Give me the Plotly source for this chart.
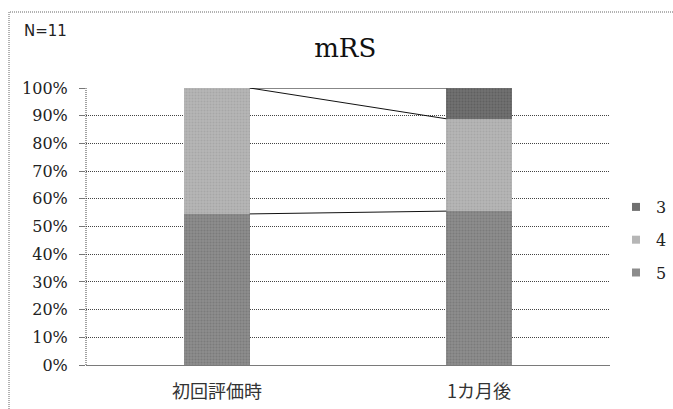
import plotly.graph_objects as go

# mRS distribution at the first assessment and one month later
categories = ["初回評価時", "1カ月後"]
grades = ["5", "4", "3"]
# share of patients per grade (%)
share = {
    "5": [6 / 11 * 100, 5 / 9 * 100],
    "4": [5 / 11 * 100, 3 / 9 * 100],
    "3": [0.0, 1 / 9 * 100],
}
colors = {"5": "#8c8c8c", "4": "#b6b6b6", "3": "#707070"}
grain = {"5": "#6a6a6a", "4": "#989898", "3": "#505050"}
y_ticks = list(range(0, 101, 10))

bar_width = 0.25
xpos = list(range(len(categories)))

SERIF = "DejaVu Serif"

fig = go.Figure()
for g in grades:
    fig.add_trace(go.Bar(
        x=xpos, y=share[g], name=g, width=bar_width, showlegend=False,
        marker=dict(color=colors[g], line=dict(width=0),
                    pattern=dict(shape=".", size=3, solidity=0.35,
                                 fgcolor=grain[g], bgcolor=colors[g])),
    ))

# series lines joining the cumulative boundaries of neighbouring bars
cum = [0.0] * len(categories)
for g in grades:
    cum = [c + v for c, v in zip(cum, share[g])]
    for i in range(len(categories) - 1):
        fig.add_trace(go.Scatter(
            x=[xpos[i] + bar_width / 2, xpos[i + 1] - bar_width / 2],
            y=[cum[i], cum[i + 1]],
            mode="lines", line=dict(color="#111111", width=1),
            showlegend=False, hoverinfo="skip",
        ))

# legend entries with small square keys (top to bottom: 3, 4, 5)
for g in reversed(grades):
    fig.add_trace(go.Scatter(
        x=[None], y=[None], name=g, mode="markers", legendgroup=g,
        marker=dict(symbol="square", size=8, color=colors[g]),
    ))

fig.update_layout(
    width=673, height=409,
    margin=dict(l=86, r=63, t=88, b=44, autoexpand=False),
    barmode="stack",
    plot_bgcolor="white", paper_bgcolor="white",
    title=dict(text="mRS", x=0.513, xanchor="center", y=1 - 48 / 409, yanchor="middle",
               font=dict(family=SERIF, size=26, color="#111111")),
    legend=dict(traceorder="grouped", x=(616 - 86) / 524, xanchor="left",
                y=(365 - 240) / 277, yanchor="middle",
                font=dict(family=SERIF, size=16, color="#222222"),
                itemwidth=30, tracegroupgap=9, bgcolor="rgba(0,0,0,0)"),
    xaxis=dict(range=[-0.5, 1.5], tickvals=xpos, ticktext=categories,
               showgrid=False, zeroline=False, showline=True, linecolor="#7a7a7a", linewidth=1,
               ticks="", ticklabelstandoff=10,
               tickfont=dict(family="Noto Sans CJK JP", size=18, color="#333333")),
    yaxis=dict(range=[0, 100], tickvals=y_ticks, ticktext=[f"{v}%" for v in y_ticks],
               showgrid=True, gridcolor="#444444", griddash="1px,1px", gridwidth=1,
               zeroline=False, showline=False,
               ticks="outside", ticklen=6, tickcolor="#777777", tickwidth=1,
               ticklabelstandoff=8,
               tickfont=dict(family=SERIF, size=16, color="#222222")),
    showlegend=True,
)

# dotted y-axis line
fig.add_shape(type="line", xref="paper", yref="paper", x0=0, x1=0, y0=0, y1=1,
              line=dict(color="#444444", width=1, dash="1px,1px"))

# dotted frame around the chart
fig.add_shape(type="rect", xref="paper", yref="paper",
              x0=(9 - 86) / 524, x1=(680 - 86) / 524,
              y0=-(420 - 365) / 277, y1=1 + (88 - 12) / 277,
              line=dict(color="#666666", width=1, dash="1px,1px"), layer="below")

fig.add_annotation(text="N=11", xref="paper", yref="paper",
                   x=(22 - 86) / 524, y=1 + (88 - 31) / 277, xanchor="left", yanchor="middle",
                   showarrow=False, font=dict(family="DejaVu Sans", size=15, color="#222222"))

fig.write_html("out.html")
